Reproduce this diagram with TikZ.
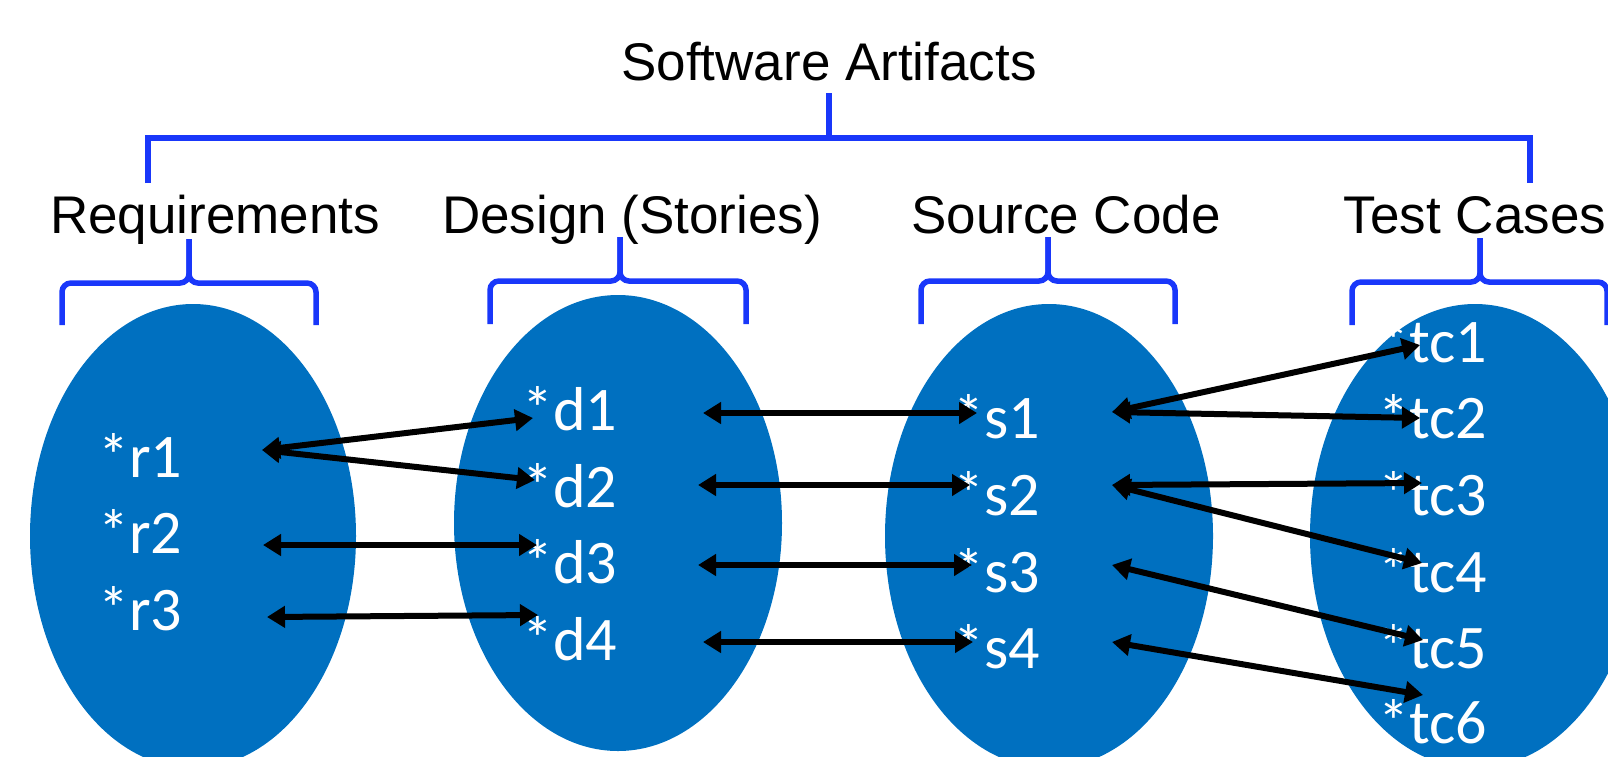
\documentclass[tikz,border=0pt]{standalone}
\usepackage{fontspec}
\setmainfont{Liberation Sans}
\newfontfamily\itemfont{Carlito}
\usetikzlibrary{arrows.meta}

\definecolor{setblue}{RGB}{0,112,192}
\definecolor{braceblue}{RGB}{25,55,250}

\begin{document}
\begin{tikzpicture}
        [x=1pt,y=-1pt,
        set/.style={fill=setblue},
        head/.style={font=\fontsize{53}{60}\selectfont,anchor=base,inner sep=0},
        item/.style={font=\itemfont\fontsize{62}{70}\selectfont,text=white,anchor=base west,inner sep=0},
        brace/.style={draw=braceblue,line width=5.5pt,rounded corners=9pt},
        link/.style={line width=6pt,{Triangle[length=18pt,width=21pt]}-{Triangle[length=18pt,width=21pt]}}]

        \useasboundingbox (0,0) rectangle (1608,756);
        \clip (0,0) rectangle (1608,756);

        % the four sets
        \fill[set] (193,536) ellipse (163pt and 232pt);
        \fill[set] (618,523) ellipse (164pt and 228pt);
        \fill[set] (1049,536) ellipse (164pt and 232pt);
        \fill[set] (1475,536) ellipse (165pt and 232pt);

        % headings
        \node[head] (top) at (829,80) {Software Artifacts};
        \node[head] (req) at (215,233) {Requirements};
        \node[head] (des) at (632,233) {Design (Stories)};
        \node[head] (src) at (1066,233) {Source Code};
        \node[head] (tst) at (1475,233) {Test Cases};

        % brackets
        \draw[brace,rounded corners=0pt] (148,183) -- (148,138) -- (1530,138) -- (1530,183);
        \draw[brace] (829,138) -- (829,93);

        \draw[brace] (62,325) -- (62,283) -- (189,283) -- (189,239);
        \draw[brace] (316,325) -- (316,283) -- (189,283) -- (189,239);
        \draw[brace] (490,324) -- (490,281) -- (620,281) -- (620,237);
        \draw[brace] (746,324) -- (746,281) -- (620,281) -- (620,237);
        \draw[brace] (921,324) -- (921,281) -- (1048,281) -- (1048,237);
        \draw[brace] (1175,324) -- (1175,281) -- (1048,281) -- (1048,237);
        \draw[brace] (1352,325) -- (1352,282) -- (1480,282) -- (1480,238);
        \draw[brace] (1607,325) -- (1607,282) -- (1480,282) -- (1480,238);

        % items
        \node[item] (r1) at (98,477) {*r1};
        \node[item] (r2) at (98,553) {*r2};
        \node[item] (r3) at (98,630) {*r3};

        \node[item] (d1) at (522,430) {*d1};
        \node[item] (d2) at (522,507) {*d2};
        \node[item] (d3) at (522,583) {*d3};
        \node[item] (d4) at (522,660) {*d4};

        \node[item] (s1) at (953,438) {*s1};
        \node[item] (s2) at (953,515) {*s2};
        \node[item] (s3) at (953,592) {*s3};
        \node[item] (s4) at (953,668) {*s4};

        \node[item] (tc1) at (1378,362) {*tc1};
        \node[item] (tc2) at (1378,438) {*tc2};
        \node[item] (tc3) at (1378,515) {*tc3};
        \node[item] (tc4) at (1378,592) {*tc4};
        \node[item] (tc5) at (1378,668) {*tc5};
        \node[item] (tc6) at (1378,743) {*tc6};

        % trace links
        \draw[link] ([shift={(164,-27)}]r1.base west) -- ([shift={(11,-12)}]d1.base west);
        \draw[link] ([shift={(164,-27)}]r1.base west) -- ([shift={(13,-27)}]d2.base west);
        \draw[link] ([shift={(165,-8)}]r2.base west) -- ([shift={(15,-38)}]d3.base west);
        \draw[link] ([shift={(169,-13)}]r3.base west) -- ([shift={(16,-45)}]d4.base west);

        \draw[link] ([shift={(181,-17)}]d1.base west) -- ([shift={(24,-25)}]s1.base west);
        \draw[link] ([shift={(176,-22)}]d2.base west) -- ([shift={(17,-30)}]s2.base west);
        \draw[link] ([shift={(176,-18)}]d3.base west) -- ([shift={(19,-27)}]s3.base west);
        \draw[link] ([shift={(181,-18)}]d4.base west) -- ([shift={(20,-26)}]s4.base west);

        \draw[link] ([shift={(159,-26)}]s1.base west) -- ([shift={(42,-17)}]tc1.base west);
        \draw[link] ([shift={(159,-26)}]s1.base west) -- ([shift={(42,-20)}]tc2.base west);
        \draw[link] ([shift={(159,-30)}]s2.base west) -- ([shift={(44,-32)}]tc3.base west);
        \draw[link] ([shift={(159,-30)}]s2.base west) -- ([shift={(44,-29)}]tc4.base west);
        \draw[link] ([shift={(159,-27)}]s3.base west) -- ([shift={(45,-28)}]tc5.base west);
        \draw[link] ([shift={(159,-26)}]s4.base west) -- ([shift={(45,-48)}]tc6.base west);
\end{tikzpicture}
\end{document}
